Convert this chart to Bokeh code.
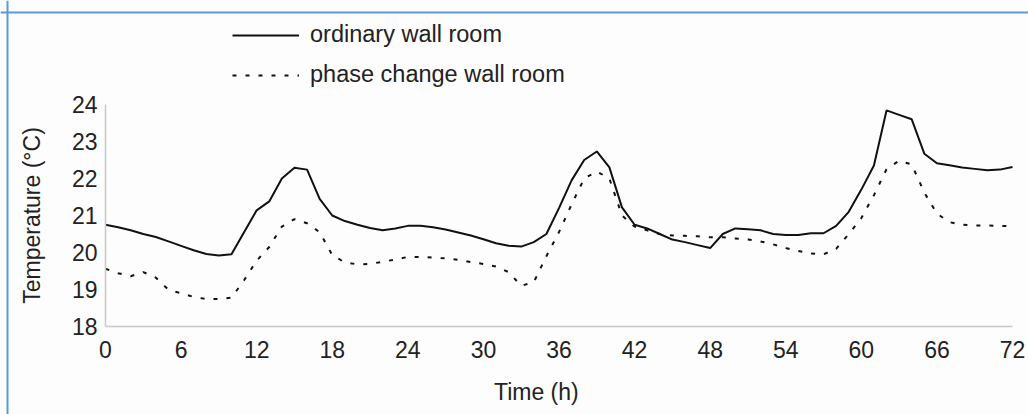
from bokeh.plotting import figure
from bokeh.models import (Range1d, FixedTicker, Legend, LegendItem, Label, Span)
from bokeh.embed import file_html
from bokeh.resources import INLINE

hours = list(range(73))

ordinary = [20.75, 20.68, 20.60, 20.50, 20.42, 20.30, 20.18, 20.06, 19.96, 19.92,
            19.95, 20.55, 21.14, 21.38, 22.00, 22.29, 22.24, 21.45, 21.00, 20.85,
            20.75, 20.66, 20.60, 20.65, 20.72, 20.72, 20.68, 20.62, 20.54, 20.46,
            20.36, 20.25, 20.18, 20.16, 20.28, 20.50, 21.20, 21.95, 22.50, 22.73,
            22.30, 21.22, 20.75, 20.65, 20.50, 20.35, 20.28, 20.20, 20.12, 20.50,
            20.65, 20.63, 20.60, 20.50, 20.47, 20.47, 20.52, 20.52, 20.72, 21.10,
            21.70, 22.35, 23.84, 23.72, 23.60, 22.67, 22.41, 22.36, 22.30, 22.26,
            22.22, 22.24, 22.31]

phase_change = [19.56, 19.44, 19.36, 19.47, 19.32, 18.99, 18.90, 18.80, 18.74, 18.74,
                18.78, 19.25, 19.78, 20.15, 20.70, 20.90, 20.79, 20.55, 19.93, 19.73,
                19.68, 19.69, 19.75, 19.81, 19.88, 19.88, 19.86, 19.84, 19.80, 19.74,
                19.69, 19.62, 19.47, 19.10, 19.20, 19.90, 20.55, 21.30, 22.00, 22.19,
                22.00, 21.00, 20.70, 20.60, 20.50, 20.46, 20.45, 20.44, 20.41, 20.41,
                20.38, 20.35, 20.30, 20.22, 20.12, 20.04, 19.97, 19.95, 20.10, 20.50,
                20.93, 21.55, 22.25, 22.48, 22.38, 21.62, 21.05, 20.82, 20.75, 20.73,
                20.73, 20.72, 20.71]

x_ticks = [0, 6, 12, 18, 24, 30, 36, 42, 48, 54, 60, 66, 72]
y_ticks = [18, 19, 20, 21, 22, 23, 24]
series_names = ["ordinary wall room", "phase change wall room"]
x_title = "Time (h)"
y_title = "Temperature (°C)"

FONT = "Liberation Sans"
BLUE = "#5b9bd5"
AXIS_GRAY = "#c8c8c8"
W, H = 1028, 414

# pixel layout of the axes box inside the canvas
AX_L, AX_R, AX_T, AX_B = 105, 1012, 104, 326
x0, x1 = x_ticks[0], x_ticks[-1]
y0, y1 = y_ticks[0], y_ticks[-1]
sx = (AX_R - AX_L) / (x1 - x0)
sy = (AX_B - AX_T) / (y1 - y0)
xr = Range1d(x0 - AX_L / sx, x1 + (W - AX_R) / sx)
yr = Range1d(y0 - (H - AX_B) / sy, y1 + AX_T / sy)

p = figure(width=W, height=H, output_backend="svg", toolbar_location=None,
           x_range=xr, y_range=yr,
           min_border=0, min_border_left=0, min_border_right=0,
           min_border_top=0, min_border_bottom=0)
p.background_fill_color = "#fdfdfd"
p.border_fill_color = "#fdfdfd"
p.outline_line_color = None
p.xgrid.visible = False
p.ygrid.visible = False

# x axis baseline limited to the time span 0..72 h
p.line([x0, x1], [y0, y0], line_color=AXIS_GRAY, line_width=1.5)

r1 = p.line(hours, ordinary, line_color="#111111", line_width=2)
r2 = p.line(hours, phase_change, line_color="#111111", line_width=2, line_dash="4 9")

for ax in (p.xaxis[0], p.yaxis[0]):
    ax.axis_line_color = AXIS_GRAY
    ax.axis_line_width = 1.5
    ax.major_tick_in = 0
    ax.major_tick_out = 0
    ax.minor_tick_in = 0
    ax.minor_tick_out = 0
    ax.major_label_text_font = FONT
    ax.major_label_text_font_size = "23px"
    ax.major_label_text_color = "#222222"
    ax.axis_label_text_font = FONT
    ax.axis_label_text_font_size = "23px"
    ax.axis_label_text_font_style = "normal"
    ax.axis_label_text_color = "#222222"

p.xaxis.axis_line_color = None
p.xaxis.ticker = FixedTicker(ticks=x_ticks)
p.yaxis.ticker = FixedTicker(ticks=y_ticks)
p.xaxis.fixed_location = y0
p.yaxis.fixed_location = x0
p.xaxis.bounds = (x0, x1)
p.yaxis.bounds = (y0, y1)
p.xaxis.major_label_standoff = 14
p.yaxis.major_label_standoff = 8
p.yaxis.axis_label = y_title
p.yaxis.axis_label_standoff = 24

p.add_layout(Label(x=34.2, y=y0 - 65 / sy, text=x_title,
                   text_font=FONT, text_font_size="23px", text_color="#222222",
                   text_align="center", text_baseline="middle"))

legend = Legend(items=[LegendItem(label=series_names[0], renderers=[r1]),
                       LegendItem(label=series_names[1], renderers=[r2])],
                location=(232, 326), orientation="vertical",
                glyph_width=67, glyph_height=26, label_height=26, label_standoff=11,
                spacing=13, padding=0, margin=0,
                label_text_font=FONT, label_text_font_size="23.5px",
                label_text_color="#222222",
                border_line_alpha=0, background_fill_alpha=0)
p.add_layout(legend)

# blue frame lines of the figure box (top and left edges)
p.add_layout(Span(location=yr.end - 12 / sy, dimension="width",
                  line_color=BLUE, line_width=2))
p.add_layout(Span(location=xr.start + 7 / sx, dimension="height",
                  line_color=BLUE, line_width=2))

open("out.html", "w").write(file_html(p, INLINE))
